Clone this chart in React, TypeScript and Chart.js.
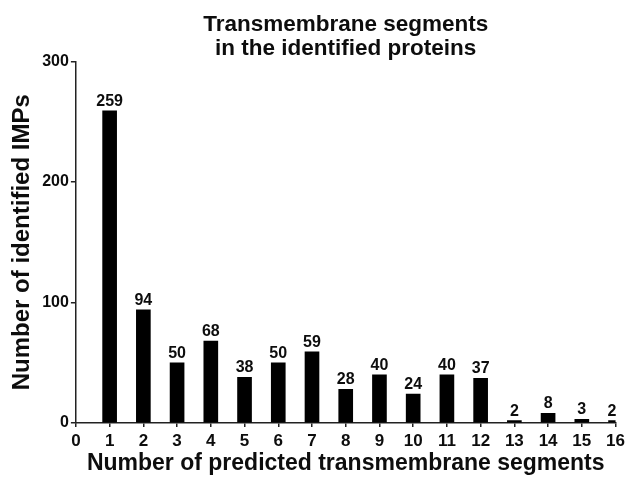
import React, { useEffect, useRef } from 'react';
import { Chart, registerables } from 'chart.js';

Chart.register(...registerables);

const segments = [1, 2, 3, 4, 5, 6, 7, 8, 9, 10, 11, 12, 13, 14, 15, 16];
const counts = [259, 94, 50, 68, 38, 50, 59, 28, 40, 24, 40, 37, 2, 8, 3, 2];
const titleLines = ['Transmembrane segments', 'in the identified proteins'];
const xTitle = 'Number of predicted transmembrane segments';
const yTitle = 'Number of identified IMPs';
const xMin = 0;
const xMax = 16;
const yMin = 0;
const yMax = 300;
const yStep = 100;

const FONT = "'Liberation Sans', Arial, Helvetica, sans-serif";
const INK = '#0d0d0d';

const valueLabels = {
  id: 'valueLabels',
  afterDatasetsDraw(chart: any) {
    const ctx = chart.ctx;
    const meta = chart.getDatasetMeta(0);
    const area = chart.chartArea;
    ctx.save();
    ctx.font = `bold 16px ${FONT}`;
    ctx.fillStyle = INK;
    ctx.textAlign = 'center';
    ctx.textBaseline = 'alphabetic';
    meta.data.forEach((el: any, i: number) => {
      const p = el.getProps(['x', 'y', 'width'], true);
      const l = Math.max(p.x - p.width / 2, area.left);
      const r = Math.min(p.x + p.width / 2, area.right);
      ctx.fillText(String(counts[i]), (l + r) / 2, p.y - 5);
    });
    ctx.restore();
  },
};

export default function App() {
  const ref = useRef<HTMLCanvasElement | null>(null);

  useEffect(() => {
    if (!ref.current) return;
    const chart = new Chart(ref.current, {
      type: 'bar',
      data: {
        datasets: [
          {
            data: segments.map((s, i) => ({ x: s, y: counts[i] })),
            backgroundColor: '#000',
            borderWidth: 0,
            barThickness: 14,
            clip: 0,
          } as any,
        ],
      },
      options: {
        animation: false,
        responsive: false,
        maintainAspectRatio: false,
        layout: { padding: { left: 0, right: 12, top: 0, bottom: 0 } },
        plugins: {
          legend: { display: false },
          tooltip: { enabled: false },
          title: {
            display: true,
            text: titleLines,
            fullSize: false,
            color: INK,
            font: { family: FONT, size: 22.5, weight: 'bold', lineHeight: 1.1 },
            padding: { top: 12, bottom: 0 },
          },
        },
        scales: {
          x: {
            type: 'linear',
            min: xMin,
            max: xMax,
            offset: false,
            afterFit: (s: any) => {
              s.height = 55;
            },
            ticks: {
              stepSize: 1,
              autoSkip: false,
              maxRotation: 0,
              color: INK,
              padding: 4,
              font: { family: FONT, size: 17, weight: 'bold' },
            },
            grid: {
              offset: false,
              drawOnChartArea: false,
              drawTicks: true,
              tickLength: 4,
              color: '#222',
              lineWidth: 1.5,
            },
            border: { display: true, color: '#222', width: 1.5 },
            title: {
              display: true,
              text: xTitle,
              color: INK,
              font: { family: FONT, size: 23, weight: 'bold' },
              padding: { top: 0, bottom: 1 },
            },
          },
          y: {
            min: yMin,
            max: yMax,
            afterFit: (s: any) => {
              s.width = 75.9;
            },
            ticks: {
              stepSize: yStep,
              color: INK,
              padding: 2,
              font: { family: FONT, size: 16, weight: 'bold' },
            },
            grid: {
              drawOnChartArea: false,
              drawTicks: true,
              tickLength: 5,
              color: '#222',
              lineWidth: 1.5,
            },
            border: { display: true, color: '#222', width: 1.5 },
            title: {
              display: true,
              text: yTitle,
              color: INK,
              font: { family: FONT, size: 24, weight: 'bold' },
              padding: { top: 8, bottom: 0 },
            },
          },
        },
      } as any,
      plugins: [valueLabels],
    });
    return () => chart.destroy();
  }, []);

  return (
    <div style={{ position: 'fixed', left: 0, top: 0, width: 629, height: 478, background: '#fff' }}>
      <canvas ref={ref} width={629} height={478} style={{ display: 'block' }} />
    </div>
  );
}
